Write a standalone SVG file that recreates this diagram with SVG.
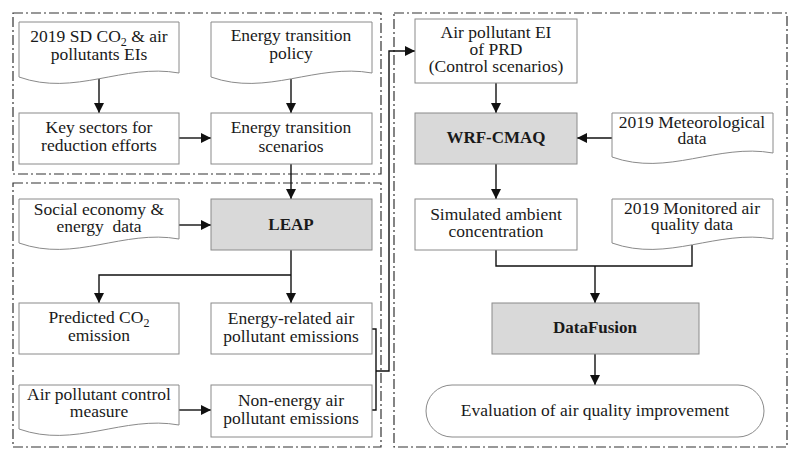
<svg xmlns="http://www.w3.org/2000/svg" width="800" height="460" viewBox="0 0 800 460">
<defs>
<marker id="ah" viewBox="0 0 10 10" refX="10" refY="5" markerUnits="userSpaceOnUse" markerWidth="13" markerHeight="10" orient="auto">
<path d="M0,0 L10,5 L0,10 Z" fill="#111"/>
</marker>
</defs>
<style>
.frame{fill:none;stroke:#333;stroke-width:1.2;stroke-dasharray:10 3 2 3}
.box{fill:#fff;stroke:#8a8a8a;stroke-width:1}
.hl{fill:#d9d9d9;stroke:#8a8a8a;stroke-width:1}
.lbl{font-family:'Liberation Serif','Times New Roman',serif;font-size:17.5px;fill:#1a1a1a;text-anchor:middle}
.bld{font-family:'Liberation Serif','Times New Roman',serif;font-size:17px;font-weight:bold;fill:#1a1a1a;text-anchor:middle}
.sub{font-size:12px}
.c{fill:none;stroke:#111;stroke-width:1.4}
.ca{fill:none;stroke:#111;stroke-width:1.4;marker-end:url(#ah)}
</style>
<rect width="800" height="460" fill="#fff"/>
<g id="frames">
<rect class="frame" x="13" y="13" width="368" height="161"/>
<rect class="frame" x="13" y="183" width="368" height="264"/>
<rect class="frame" x="394" y="13" width="393" height="434"/>
</g>
<g id="connectors">
<path class="ca" d="M99,79 V113"/>
<path class="ca" d="M291,79 V113"/>
<path class="ca" d="M179,138 H211"/>
<path class="ca" d="M291,164 V199"/>
<path class="ca" d="M179,225 H211"/>
<path class="ca" d="M291,250 V303"/>
<path class="ca" d="M291,275 H99 V303"/>
<path class="ca" d="M179,410 H211"/>
<path class="c" d="M372,329 H376 V410 H372"/>
<path class="ca" d="M376,371 H389 V51 H415"/>
<path class="ca" d="M496,83 V113"/>
<path class="ca" d="M612,138 H577"/>
<path class="ca" d="M496,164 V199"/>
<path class="c" d="M496,250 V266 H692 V245"/>
<path class="ca" d="M595,266 V303"/>
<path class="ca" d="M595,354 V385"/>
</g>
<g id="nodes">
<g id="n-sd-ei">
<path class="box" d="M19,22 H179 V73 C123,63 75,97 19,77 Z"/>
<text class="lbl" x="99" y="42">2019 SD CO<tspan class="sub" dy="4">2</tspan><tspan dy="-4"> &amp; air</tspan></text>
<text class="lbl" x="99" y="60">pollutants EIs</text>
</g>
<g id="n-policy">
<path class="box" d="M211,22 H372 V73 C316,63 267,97 211,77 Z"/>
<text class="lbl" x="291" y="41">Energy transition</text>
<text class="lbl" x="291" y="59">policy</text>
</g>
<g id="n-key-sectors">
<rect class="box" x="19" y="113" width="160" height="51"/>
<text class="lbl" x="99" y="133">Key sectors for</text>
<text class="lbl" x="99" y="151">reduction efforts</text>
</g>
<g id="n-scenarios">
<rect class="box" x="211" y="113" width="161" height="51"/>
<text class="lbl" x="291" y="133">Energy transition</text>
<text class="lbl" x="291" y="152">scenarios</text>
</g>
<g id="n-social">
<path class="box" d="M19,199 H179 V239 C123,229 75,263 19,243 Z"/>
<text class="lbl" x="99" y="215">Social economy &amp;</text>
<text class="lbl" x="99" y="232" xml:space="preserve">energy  data</text>
</g>
<g id="n-leap">
<rect class="hl" x="211" y="199" width="161" height="51"/>
<text class="bld" x="291" y="230">LEAP</text>
</g>
<g id="n-co2">
<rect class="box" x="19" y="303" width="160" height="51"/>
<text class="lbl" x="99" y="323">Predicted CO<tspan class="sub" dy="4">2</tspan></text>
<text class="lbl" x="99" y="341">emission</text>
</g>
<g id="n-energy-related">
<rect class="box" x="211" y="303" width="161" height="51"/>
<text class="lbl" x="291" y="324">Energy-related air</text>
<text class="lbl" x="291" y="342">pollutant emissions</text>
</g>
<g id="n-control">
<path class="box" d="M19,385 H179 V425 C123,415 75,449 19,429 Z"/>
<text class="lbl" x="99" y="400">Air pollutant control</text>
<text class="lbl" x="99" y="417">measure</text>
</g>
<g id="n-non-energy">
<rect class="box" x="211" y="385" width="161" height="52"/>
<text class="lbl" x="291" y="406">Non-energy air</text>
<text class="lbl" x="291" y="424">pollutant emissions</text>
</g>
<g id="n-ei-prd">
<rect class="box" x="415" y="19" width="162" height="64"/>
<text class="lbl" x="496" y="38">Air pollutant EI</text>
<text class="lbl" x="496" y="55">of PRD</text>
<text class="lbl" x="496" y="72">(Control scenarios)</text>
</g>
<g id="n-wrf">
<rect class="hl" x="415" y="113" width="162" height="51"/>
<text class="bld" x="496" y="143">WRF-CMAQ</text>
</g>
<g id="n-met">
<path class="box" d="M612,113 H773 V153 C717,143 668,177 612,157 Z"/>
<text class="lbl" x="692" y="128">2019 Meteorological</text>
<text class="lbl" x="692" y="144">data</text>
</g>
<g id="n-simulated">
<rect class="box" x="415" y="199" width="162" height="51"/>
<text class="lbl" x="496" y="220">Simulated ambient</text>
<text class="lbl" x="496" y="237">concentration</text>
</g>
<g id="n-monitored">
<path class="box" d="M612,199 H773 V239 C717,229 668,263 612,243 Z"/>
<text class="lbl" x="692" y="214">2019 Monitored air</text>
<text class="lbl" x="692" y="230">quality data</text>
</g>
<g id="n-datafusion">
<rect class="hl" x="492" y="303" width="207" height="51"/>
<text class="bld" x="595" y="333">DataFusion</text>
</g>
<g id="n-evaluation">
<rect class="box" x="426" y="385" width="338" height="52" rx="26" ry="26"/>
<text class="lbl" x="595" y="416">Evaluation of air quality improvement</text>
</g>
</g>
</svg>
